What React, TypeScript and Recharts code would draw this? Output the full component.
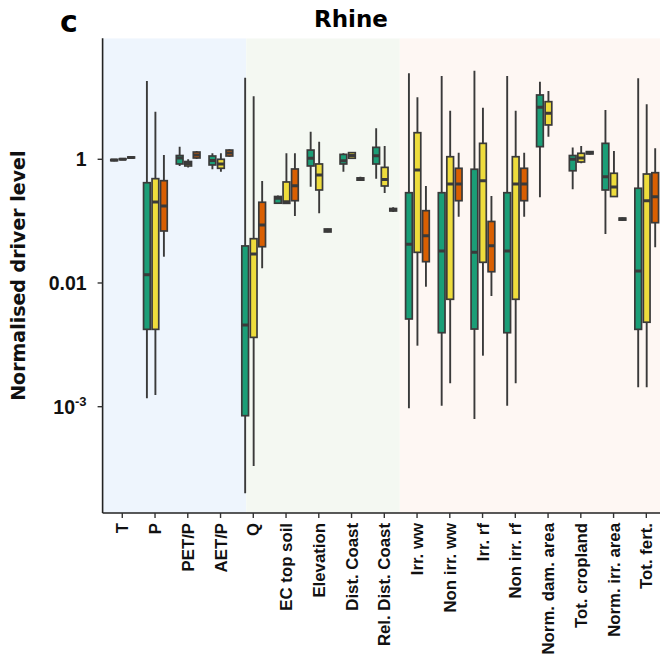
import React from 'react';
import { ComposedChart, Bar, XAxis, YAxis, ReferenceArea } from 'recharts';

const categories = ['T', 'P', 'PET/P', 'AET/P', 'Q', 'EC top soil', 'Elevation', 'Dist. Coast', 'Rel. Dist. Coast', 'Irr. ww', 'Non irr. ww', 'Irr. rf', 'Non irr. rf', 'Norm. dam. area', 'Tot. cropland', 'Norm. irr. area', 'Tot. fert.'];

// each entry: [min, q1, median, q3, max]
const greenStats: (number[] | null)[] = [
  [0.93, 0.95, 0.97, 0.99, 1.01],
  [1.37e-4, 0.00178, 0.0136, 0.418, 18.4],
  [0.78, 0.84, 1.05, 1.15, 1.6],
  [0.69, 0.81, 0.956, 1.13, 1.25],
  [3.98e-6, 7.15e-5, 0.00209, 0.0397, 20.9],
  [0.19, 0.195, 0.235, 0.25, 0.26],
  [0.36, 0.78, 1.04, 1.41, 2.79],
  [0.63, 0.84, 0.95, 1.2, 1.25],
  [0.484, 0.84, 1.14, 1.56, 3.17],
  [9.42e-5, 0.00262, 0.0422, 0.288, 24.6],
  [1.04e-4, 0.00157, 0.0329, 0.288, 22.2],
  [6.33e-5, 0.0018, 0.0313, 0.69, 27.1],
  [1.04e-4, 0.00157, 0.0329, 0.288, 22.2],
  [0.243, 1.6, 6.93, 10.96, 18.0],
  [0.327, 0.652, 1.0, 1.15, 1.55],
  [0.062, 0.319, 0.523, 1.81, 6.27],
  [2.06e-4, 0.00178, 0.0156, 0.34, 20.4],
];

const yellowStats: (number[] | null)[] = [
  [0.97, 0.99, 1.0, 1.02, 1.04],
  [1.55e-4, 0.00178, 0.204, 0.486, 5.88],
  [0.74, 0.78, 0.855, 0.92, 1.0],
  [0.63, 0.715, 0.84, 1.0, 1.25],
  [1.1e-5, 0.00132, 0.0294, 0.052, 10.5],
  [0.189, 0.194, 0.206, 0.43, 1.25],
  [0.134, 0.319, 0.557, 0.84, 1.93],
  [1.01, 1.04, 1.15, 1.28, 1.3],
  [0.285, 0.37, 0.471, 0.74, 1.64],
  [9.69e-4, 0.0313, 0.671, 2.69, 10.1],
  [2.39e-4, 0.00545, 0.399, 1.1, 6.11],
  [6.68e-4, 0.0216, 0.451, 1.81, 6.83],
  [2.39e-4, 0.00545, 0.399, 1.1, 6.11],
  [2.32, 3.59, 5.54, 8.54, 12.7],
  [0.862, 0.904, 1.05, 1.25, 1.64],
  [0.245, 0.25, 0.357, 0.594, 1.36],
  [2.06e-4, 0.00232, 0.214, 0.578, 7.75],
];

const orangeStats: (number[] | null)[] = [
  [1.02, 1.05, 1.07, 1.09, 1.11],
  [0.0266, 0.0693, 0.176, 0.451, 1.17],
  [1.01, 1.05, 1.17, 1.31, 1.36],
  [1.1, 1.13, 1.26, 1.41, 1.45],
  [0.0173, 0.0386, 0.0866, 0.202, 0.446],
  [0.121, 0.214, 0.374, 0.697, 1.25],
  [0.066, 0.0668, 0.0706, 0.0747, 0.075],
  [0.446, 0.46, 0.48, 0.5, 0.523],
  [0.141, 0.146, 0.153, 0.16, 0.167],
  [0.0087, 0.0221, 0.0582, 0.1476, 0.37],
  [0.118, 0.214, 0.399, 0.715, 1.28],
  [0.00616, 0.0152, 0.0401, 0.0987, 0.255],
  [0.118, 0.214, 0.399, 0.715, 1.28],
  null,
  [1.19, 1.22, 1.28, 1.33, 1.36],
  [0.1005, 0.104, 0.108, 0.112, 0.115],
  [0.0378, 0.0944, 0.248, 0.607, 1.51],
];

const yTickValues = [1e-4, 0.01, 1];
const yTickLabels = ['10^-3', '0.01', '1'];

// background groups, in category-index units
const groupBands = [
  { x1: -0.6, x2: 4.08, fill: '#EEF5FD' },
  { x1: 4.08, x2: 8.44, fill: '#F4F8F2' },
  { x1: 8.44, x2: 16.6, fill: '#FEF7F3' },
];

const COLORS = { green: '#1B9E77', yellow: '#EEDC3C', orange: '#D95F02' };
const STROKE = '#3A3A3A';

const data = categories.map((cat, i) => ({
  cat,
  green: greenStats[i],
  yellow: yellowStats[i],
  orange: orangeStats[i],
}));

const rangeOf = (key: string) => (d: any) => (d[key] ? [d[key][0], d[key][4]] : null);

const makeShape = (key: string, fill: string) => (props: any) => {
  const { x, y, width, height, payload } = props;
  const s = payload ? payload[key] : null;
  if (!s || height == null || isNaN(y)) return <g />;
  const [mn, q1, md, q3, mx] = s;
  const lt = Math.log10(mx);
  const lb = Math.log10(mn);
  const py = (v: number) => y + (height * (lt - Math.log10(v))) / (lt - lb);
  const cx = x + width / 2;
  const bx = x + 0.9;
  const bw = width - 1.8;
  return (
    <g>
      <line x1={cx} x2={cx} y1={py(mx)} y2={py(mn)} stroke={STROKE} strokeWidth={1.9} />
      <rect x={bx} y={py(q3)} width={bw} height={Math.max(py(q1) - py(q3), 0.8)} fill={fill} stroke={STROKE} strokeWidth={1.7} />
      <line x1={bx} x2={bx + bw} y1={py(md)} y2={py(md)} stroke={STROKE} strokeWidth={3} />
    </g>
  );
};

const XTick = (props: any) => {
  const { x, y, payload } = props;
  const tx = x + 6;
  const ty = y + 3;
  return (
    <text x={tx} y={ty} transform={`rotate(-90, ${tx}, ${ty})`} textAnchor="end" fontFamily="Liberation Sans, Arial, sans-serif" fontWeight="bold" fontSize={16.8} fill="#111">
      {payload.value}
    </text>
  );
};

const YTick = (props: any) => {
  const { x, y, payload } = props;
  const idx = yTickValues.findIndex((v) => Math.abs(v - payload.value) / v < 1e-6);
  const label = idx >= 0 ? yTickLabels[idx] : String(payload.value);
  const parts = label.split('^');
  return (
    <text x={x - 2} y={y} dy={7} textAnchor="end" fontFamily="Liberation Sans, Arial, sans-serif" fontWeight="bold" fontSize={19.5} fill="#111">
      {parts[0]}
      {parts[1] ? (
        <tspan dy={-8} fontSize={13}>
          {parts[1]}
        </tspan>
      ) : null}
    </text>
  );
};

const YLabel = (props: any) => {
  const { viewBox } = props;
  const cy = viewBox.y + viewBox.height / 2;
  const lx = 25.5;
  return (
    <text x={lx} y={cy} transform={`rotate(-90, ${lx}, ${cy})`} textAnchor="middle" fontFamily="DejaVu Sans, Verdana, sans-serif" fontWeight="bold" fontSize={19} fill="#111">
      Normalised driver level
    </text>
  );
};

export default function App() {
  return (
    <div style={{ position: 'absolute', left: 0, top: 0, width: 660, height: 666, overflow: 'hidden', background: '#fff' }}>
      <svg width={660} height={40} style={{ position: 'absolute', left: 0, top: 0 }}>
        <text x={60} y={31.5} fontFamily="DejaVu Sans, Verdana, sans-serif" fontWeight="bold" fontSize={30} fill="#000">c</text>
        <text x={351} y={26.5} textAnchor="middle" fontFamily="DejaVu Sans, Verdana, sans-serif" fontWeight="bold" fontSize={23} fill="#000">Rhine</text>
      </svg>
      <div style={{ position: 'absolute', left: 0, top: 0 }}>
        <ComposedChart width={666} height={666} data={data} margin={{ top: 38.3, right: 0, bottom: 0, left: 0 }} barGap={0} barSize={8.5}>
          <XAxis xAxisId="bg" type="number" domain={[-0.6, 16.6]} hide allowDataOverflow />
          {groupBands.map((b, i) => (
            <ReferenceArea key={i} xAxisId="bg" x1={b.x1} x2={b.x2} fill={b.fill} fillOpacity={1} stroke="none" ifOverflow="hidden" />
          ))}
          <XAxis
            dataKey="cat"
            interval={0}
            height={153}
            padding={{ left: 3.3, right: 3.3 }}
            tick={<XTick />}
            tickSize={5}
            axisLine={{ stroke: '#222', strokeWidth: 1.6 }}
            tickLine={{ stroke: '#333', strokeWidth: 1.4 }}
          />
          <YAxis
            scale="log"
            domain={[1.91e-6, 90.4]}
            allowDataOverflow
            ticks={yTickValues}
            width={102.6}
            tick={<YTick />}
            tickSize={5}
            tickMargin={9}
            axisLine={{ stroke: '#222', strokeWidth: 1.6 }}
            tickLine={{ stroke: '#333', strokeWidth: 1.4 }}
            label={<YLabel />}
          />
          <Bar dataKey={rangeOf('green')} isAnimationActive={false} shape={makeShape('green', COLORS.green)} />
          <Bar dataKey={rangeOf('yellow')} isAnimationActive={false} shape={makeShape('yellow', COLORS.yellow)} />
          <Bar dataKey={rangeOf('orange')} isAnimationActive={false} shape={makeShape('orange', COLORS.orange)} />
        </ComposedChart>
      </div>
    </div>
  );
}
